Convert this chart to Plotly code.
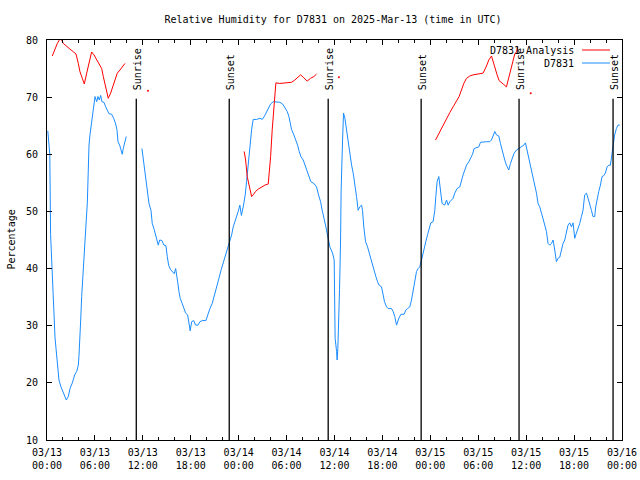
import plotly.graph_objects as go
import pandas as pd

BASE = pd.Timestamp("2025-03-13 00:00")

# Observed relative humidity D7831 (hours since 03/13 00:00 UTC, %); None = gap
obs_hours = [0.1, 0.35, 0.45, 0.63, 0.71, 0.84, 1.0, 1.13, 1.34, 1.5, 1.75, 1.96, 2.21, 2.42, 2.67, 2.88,
             3.17, 3.47, 3.72, 3.92, 4.0, 4.13, 4.22, 4.34, 4.47, 4.59, 4.72, 4.84, 4.97, 5.05, 5.13, 5.26,
             5.38, 5.51, 5.63, 5.76, 5.88, 6.01, 6.22, 6.38, 6.55, 6.72, 6.88, 7.13, 7.35, 7.6, 7.76, 8.1,
             8.35, 8.6, 8.76, 8.89, 9.1, 9.26, 9.42, 9.55, 9.72, 9.92,
             None,
             11.89, 12.01, 12.18, 12.35, 12.55, 12.77, 13.02, 13.18, 13.43, 13.64, 13.81, 13.93, 14.11, 14.39,
             14.64, 14.89, 15.06, 15.23, 15.48, 15.73, 15.93, 16.11, 16.23, 16.36, 16.52, 16.68, 16.93, 17.15,
             17.36, 17.61, 17.77, 17.93, 18.11, 18.36, 18.61, 18.9, 19.15, 19.44, 19.9, 20.11, 20.4, 20.69,
             20.94, 21.24, 21.53, 21.81, 22.11, 22.4, 22.69, 22.9, 23.12, 23.32, 23.62, 23.94, 24.15, 24.34,
             24.57, 24.82, 24.99, 25.19, 25.41, 25.62, 25.82, 26.25, 26.66, 26.95, 27.2, 27.5, 27.78, 28.0,
             28.32, 28.75, 29.16, 29.5, 29.79, 30.08, 30.29, 30.45, 30.63, 30.91, 31.16, 31.38, 31.58, 31.79,
             32.08, 32.33, 32.58, 32.79, 33.04, 33.42, 33.75, 34.0, 34.26, 34.46, 34.67, 34.92, 35.42, 35.76,
             35.96, 36.0, 36.08, 36.26, 36.33, 36.42, 36.51, 36.63, 36.76, 36.83, 37.01, 37.13, 37.3, 37.51,
             37.71, 37.92, 38.14, 38.34, 38.55, 38.76, 38.96, 39.17, 39.39, 39.51, 39.67, 39.89, 40.14, 40.34,
             40.55, 40.76, 40.96, 41.18, 41.39, 41.59, 41.89, 42.09, 42.26, 42.52, 42.72, 43.14, 43.34, 43.55,
             43.77, 44.06, 44.31, 44.72, 44.93, 45.14, 45.43, 45.64, 45.84, 46.06, 46.27, 46.47, 46.68, 46.9,
             47.18, 47.43, 47.65, 47.85, 48.06, 48.35, 48.56, 48.69, 48.85, 49.06, 49.27, 49.47, 49.81, 50.03,
             50.23, 50.44, 50.65, 50.85, 51.06, 51.35, 51.69, 51.9, 52.1, 52.32, 52.53, 52.82, 53.07, 53.28,
             53.48, 53.78, 54.07, 54.28, 54.61, 55.03, 55.44, 55.65, 55.86, 56.07, 56.28, 56.57, 56.78, 56.98,
             57.11, 57.32, 57.53, 57.82, 58.04, 58.24, 58.49, 58.79, 59.07, 59.41, 59.7, 59.91, 60.11, 60.33,
             60.58, 60.86, 61.08, 61.29, 61.49, 61.7, 61.92, 62.12, 62.33, 62.54, 62.74, 62.95, 63.17, 63.37,
             63.58, 63.79, 63.99, 64.21, 64.42, 64.62, 64.83, 65.04, 65.24, 65.46, 65.67, 65.87, 66.08, 66.29,
             66.5, 66.71, 66.92, 67.12, 67.33, 67.55, 67.75, 67.96, 68.17, 68.37, 68.58, 68.71, 68.87, 69.09,
             69.3, 69.5, 69.71, 69.92, 70.13, 70.34, 70.55, 70.71, 70.88, 71.08, 71.3, 71.5, 71.71]
obs_rh = [64.1, 60.0, 46.0, 40.0, 34.7, 30.9, 28.0, 26.0, 23.1, 20.5, 19.3, 18.5, 17.6, 17.0, 17.6, 19.0,
          20.0, 21.4, 22.0, 23.1, 24.6, 27.5, 31.0, 35.1, 38.6, 41.3, 44.4, 46.8, 49.7, 51.5, 57.8, 61.6,
          63.4, 64.8, 66.1, 67.5, 69.2, 70.1, 69.2, 70.1, 69.5, 70.3, 69.2, 69.1, 68.3, 67.5, 67.1, 67.0,
          66.3, 65.3, 64.3, 62.2, 61.6, 60.8, 60.0, 61.0, 62.2, 63.1,
          None,
          61.0, 59.6, 57.2, 55.5, 53.2, 51.4, 50.2, 47.9, 46.8, 45.6, 44.7, 44.1, 45.0, 44.9,
          44.1, 44.0, 42.1, 40.6, 39.8, 39.5, 39.1, 40.0, 39.2, 37.7, 36.0, 34.8, 33.9, 33.0,
          32.2, 31.9, 30.7, 29.1, 30.7, 30.9, 30.1, 30.1, 30.7, 30.9, 30.9, 31.9, 33.0, 33.9,
          35.1, 36.5, 38.3, 39.8, 41.2, 42.4, 43.5, 44.7, 45.9, 47.3, 48.5, 50.0, 51.1, 49.3,
          50.8, 52.9, 55.2, 58.4, 61.9, 64.3, 66.1, 66.1, 66.3, 66.1, 66.6, 67.5, 68.1, 68.8,
          69.2, 69.2, 69.1, 68.8, 68.1, 67.5, 66.6, 65.1, 64.3, 63.4, 62.5, 61.6, 60.5, 59.6,
          59.0, 58.1, 57.0, 56.1, 55.2, 54.9, 54.3, 52.9, 51.7, 50.2, 49.1, 47.3, 43.8, 42.7,
          41.5, 35.1, 27.8, 25.5, 24.0, 26.0, 29.8, 36.3, 45.0, 53.75, 62.5, 67.2, 66.3, 64.3,
          61.6, 60.2, 58.1, 56.7, 54.9, 52.6, 50.2, 50.8, 51.1, 50.2, 47.3, 44.7, 43.8, 42.7,
          41.8, 40.9, 39.8, 38.6, 37.7, 37.1, 36.8, 35.1, 34.2, 33.3, 33.0, 33.0, 32.5, 31.6,
          30.1, 31.3, 32.0, 32.0, 32.75, 33.0, 33.3, 34.5, 36.3, 38.0, 39.5, 40.0, 40.3, 41.5,
          43.5, 44.7, 45.9, 46.8, 48.0, 48.2, 50.2, 52.6, 55.2, 56.1, 53.2, 51.4, 51.1, 52.0,
          51.1, 51.7, 52.0, 52.3, 53.2, 54.0, 54.3, 55.5, 56.4, 57.25, 58.1, 58.7, 59.3, 60.0,
          61.0, 61.2, 61.3, 62.1, 62.2, 62.2, 62.2, 62.5, 63.2, 64.0, 63.4, 63.2, 61.9, 60.75,
          59.7, 59.0, 58.1, 57.25, 58.4, 59.3, 60.2, 60.75, 61.0, 61.3, 61.6, 62.0, 60.75, 59.3,
          57.8, 56.1, 54.9, 53.2, 51.4, 50.8, 49.7, 48.5, 47.3, 46.5, 44.4, 44.1, 44.4, 45.0,
          43.25, 41.2, 41.8, 42.0, 43.25, 44.4, 45.0, 46.2, 47.6, 48.0, 47.3, 48.0, 45.3, 46.2,
          47.0, 47.9, 49.1, 50.2, 52.9, 53.2, 52.3, 51.4, 50.2, 49.1, 49.1, 50.8, 52.3, 53.5,
          54.6, 56.1, 56.25, 56.7, 57.8, 58.1, 58.1, 59.6, 61.6, 63.4, 64.5, 65.1, 65.1]

# Analysis relative humidity D7831 Analysis; None = gap
ana_hours = [0.66, 1.0, 1.29, 1.63, 1.84, 2.04, 2.47, 2.88, 3.29, 3.63, 3.92, 4.13, 4.42, 4.67, 4.97, 5.26,
             5.59, 5.88, 6.22, 6.55, 6.85, 7.05, 7.35, 7.67, 7.97, 8.22, 8.51, 8.8, 9.14, 9.42, 9.76,
             None,
             24.69, 24.87, 25.07, 25.32, 25.62, 25.82, 26.12, 26.45, 26.87, 27.28, 27.7, 27.82, 28.0, 28.2,
             28.41, 28.54, 28.66, 29.16, 30.0, 30.63, 31.04, 31.45, 31.75, 32.08, 32.58, 33.0, 33.42, 33.75,
             None,
             48.65, 48.97, 49.27, 49.6, 50.03, 50.44, 50.85, 51.28, 51.6, 51.9, 52.19, 52.53, 52.94, 53.35,
             53.98, 54.61, 55.03, 55.32, 55.66, 55.86, 56.07, 56.36, 56.61, 56.91, 57.2, 57.53, 57.73, 58.04,
             58.36, 58.57, 58.79, 58.95]
ana_rh = [77.2, 78.5, 79.4, 80.2, 80.0, 79.4, 78.8, 78.4, 77.95, 77.55, 75.9, 74.45, 73.3, 72.3, 74.2, 75.9,
          77.9, 77.4, 76.5, 75.9, 75.0, 73.6, 71.8, 69.8, 70.7, 71.8, 73.3, 74.2, 74.75, 75.2, 75.9,
          None,
          60.5, 59.0, 56.1, 54.3, 52.6, 52.9, 53.5, 53.9, 54.3, 54.6, 54.8, 56.4, 59.6, 64.3,
          68.3, 71.0, 72.5, 72.4, 72.5, 72.6, 73.0, 73.5, 73.9, 73.5, 72.8, 73.3, 73.6, 74.05,
          None,
          62.5, 63.4, 64.3, 65.1, 66.3, 67.3, 68.3, 69.2, 70.1, 71.25, 72.4, 73.3, 73.7, 73.9,
          74.0, 74.2, 75.45, 76.5, 77.2, 76.2, 75.0, 73.9, 72.9, 72.6, 72.2, 71.8, 73.0, 74.75,
          76.5, 77.55, 77.95, 78.8]

# Isolated analysis values
ana_dot_hours = [12.64, 36.55, 60.57]
ana_dot_rh = [71.1, 73.5, 70.7]

# Sun events (hours since 03/13 00:00 UTC)
sun_labels = ["Sunrise", "Sunset", "Sunrise", "Sunset", "Sunrise", "Sunset"]
sun_hours = [11.18, 22.82, 35.21, 46.85, 59.11, 70.88]

y_ticks = [10, 20, 30, 40, 50, 60, 70, 80]


def to_time(hours):
    return [None if h is None else BASE + pd.Timedelta(hours=h) for h in hours]


FONT = "DejaVu Sans Mono, Liberation Mono, monospace"
RED = "#ff0000"
BLUE = "#1a8cff"
PLOT_W = 575.0

fig = go.Figure()
fig.add_trace(go.Scatter(x=to_time(obs_hours), y=obs_rh, mode="lines",
                         line=dict(color=BLUE, width=1), name="D7831",
                         connectgaps=False, showlegend=False))
fig.add_trace(go.Scatter(x=to_time(ana_hours), y=ana_rh, mode="lines",
                         line=dict(color=RED, width=1), name="D7831 Analysis",
                         connectgaps=False, showlegend=False))
fig.add_trace(go.Scatter(x=to_time(ana_dot_hours), y=ana_dot_rh, mode="markers",
                         marker=dict(color=RED, size=2), showlegend=False))

for lab, h in zip(sun_labels, sun_hours):
    t = BASE + pd.Timedelta(hours=h)
    fig.add_shape(type="line", xref="x", yref="y", x0=t, x1=t, y0=10, y1=69.7,
                  line=dict(color="black", width=1.3))
    fig.add_annotation(x=t, y=70.9, xref="x", yref="y", text=lab, textangle=-90,
                       showarrow=False, xanchor="center", yanchor="bottom", xshift=1,
                       font=dict(family=FONT, size=10, color="black"))

# gnuplot-style key: text then line sample
legend_items = [("D7831 Analysis", RED, 0.975), ("D7831", BLUE, 0.9425)]
for txt, col, yp in legend_items:
    fig.add_annotation(x=(576 - 47) / PLOT_W, y=yp, xref="paper", yref="paper", text=txt,
                       showarrow=False, xanchor="right", yanchor="middle",
                       font=dict(family=FONT, size=10, color="black"))
    fig.add_shape(type="line", xref="paper", yref="paper",
                  x0=(582 - 47) / PLOT_W, x1=(610 - 47) / PLOT_W, y0=yp, y1=yp,
                  line=dict(color=col, width=1))

# y-axis title placed like gnuplot's ylabel
fig.add_annotation(x=(10.5 - 47) / PLOT_W, y=0.5, xref="paper", yref="paper", text="Percentage",
                   textangle=-90, showarrow=False, xanchor="center", yanchor="middle",
                   font=dict(family=FONT, size=10, color="black"))

fig.update_layout(
    width=640, height=480,
    margin=dict(l=47, r=18, t=40, b=40, autoexpand=False),
    paper_bgcolor="white", plot_bgcolor="white",
    font=dict(family=FONT, size=10, color="black"),
    title=dict(text="Relative Humidity for D7831 on 2025-Mar-13 (time in UTC)",
               x=(333 - 47) / PLOT_W, xref="paper", xanchor="center", y=1 - 19 / 480, yanchor="middle",
               font=dict(family=FONT, size=10, color="black")),
    showlegend=False,
)
fig.update_xaxes(
    range=[BASE, BASE + pd.Timedelta(hours=72)],
    tickformat="%m/%d\n%H:%M", dtick=6 * 3600 * 1000, tick0=BASE,
    ticks="inside", ticklen=5, tickcolor="black", tickwidth=1,
    minor=dict(dtick=2 * 3600 * 1000, ticks="inside", ticklen=3, tickcolor="black", showgrid=False),
    showline=True, linecolor="black", linewidth=1, mirror="ticks",
    showgrid=False, zeroline=False, ticklabelstandoff=3, automargin=False,
    tickfont=dict(family=FONT, size=10, color="black"),
)
fig.update_yaxes(
    range=[10, 80], tickvals=y_ticks,
    ticks="inside", ticklen=5, tickcolor="black",
    showline=True, linecolor="black", linewidth=1, mirror="ticks",
    showgrid=False, zeroline=False, ticklabelstandoff=6, automargin=False,
    tickfont=dict(family=FONT, size=10, color="black"),
)

fig.write_html("out.html", config={"displayModeBar": False},
               post_script="document.body.style.margin='0';")
